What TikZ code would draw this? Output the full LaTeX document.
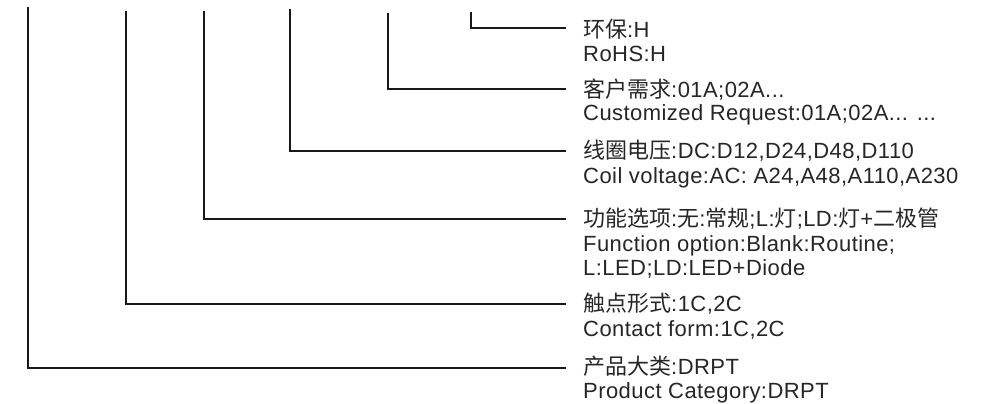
\documentclass[tikz,border=0pt]{standalone}
\usepackage{fontspec}
\setmainfont{Liberation Sans}[LetterSpace=2.0]
\newfontfamily\cjk{Noto Sans CJK SC}
\begin{document}
\begin{tikzpicture}[x=1pt,y=-1pt,
  lbl/.style={anchor=base west,inner sep=0pt,font=\fontsize{22pt}{25pt}\selectfont,text=black!85},
  conn/.style={draw=black!90,line width=1.2pt}]
\useasboundingbox (0,0) rectangle (983,404);
% top ends of the vertical lines
\coordinate (t1) at (471,12);
\coordinate (t2) at (388,13);
\coordinate (t3) at (290,9);
\coordinate (t4) at (204,11);
\coordinate (t5) at (126,11);
\coordinate (t6) at (28,7);
% right ends of the horizontal lines
\coordinate (e1) at (566,28);
\coordinate (e2) at (566,89);
\coordinate (e3) at (566,151);
\coordinate (e4) at (566,219);
\coordinate (e5) at (566,304);
\coordinate (e6) at (566,368);
% labels
\node[lbl] (a1) at (583,38) {{\cjk 环保}:H};
\node[lbl] (b1) at (583,62) {RoHS:H};
\node[lbl] (a2) at (583,97) {{\cjk 客户需求}:01A;02A...};
\node[lbl] (b2) at (583,121) {Customized Request:01A;02A... ...};
\node[lbl] (a3) at (583,158) {{\cjk 线圈电压}:DC:D12,D24,D48,D110};
\node[lbl] (b3) at (583,183) {Coil voltage:AC: A24,A48,A110,A230};
\node[lbl] (a4) at (583,226) {{\cjk 功能选项}:{\cjk 无}:{\cjk 常规};L:{\cjk 灯};LD:{\cjk 灯}+{\cjk 二极管}};
\node[lbl] (b4) at (583,251) {Function option:Blank:Routine;};
\node[lbl] (c4) at (583,275) {L:LED;LD:LED+Diode};
\node[lbl] (a5) at (583,311) {{\cjk 触点形式}:1C,2C};
\node[lbl] (b5) at (583,336) {Contact form:1C,2C};
\node[lbl] (a6) at (583,374) {{\cjk 产品大类}:DRPT};
\node[lbl] (b6) at (583,398) {Product Category:DRPT};
% connectors
\draw[conn] (t1) |- (e1);
\draw[conn] (t2) |- (e2);
\draw[conn] (t3) |- (e3);
\draw[conn] (t4) |- (e4);
\draw[conn] (t5) |- (e5);
\draw[conn] (t6) |- (e6);
\end{tikzpicture}
\end{document}
